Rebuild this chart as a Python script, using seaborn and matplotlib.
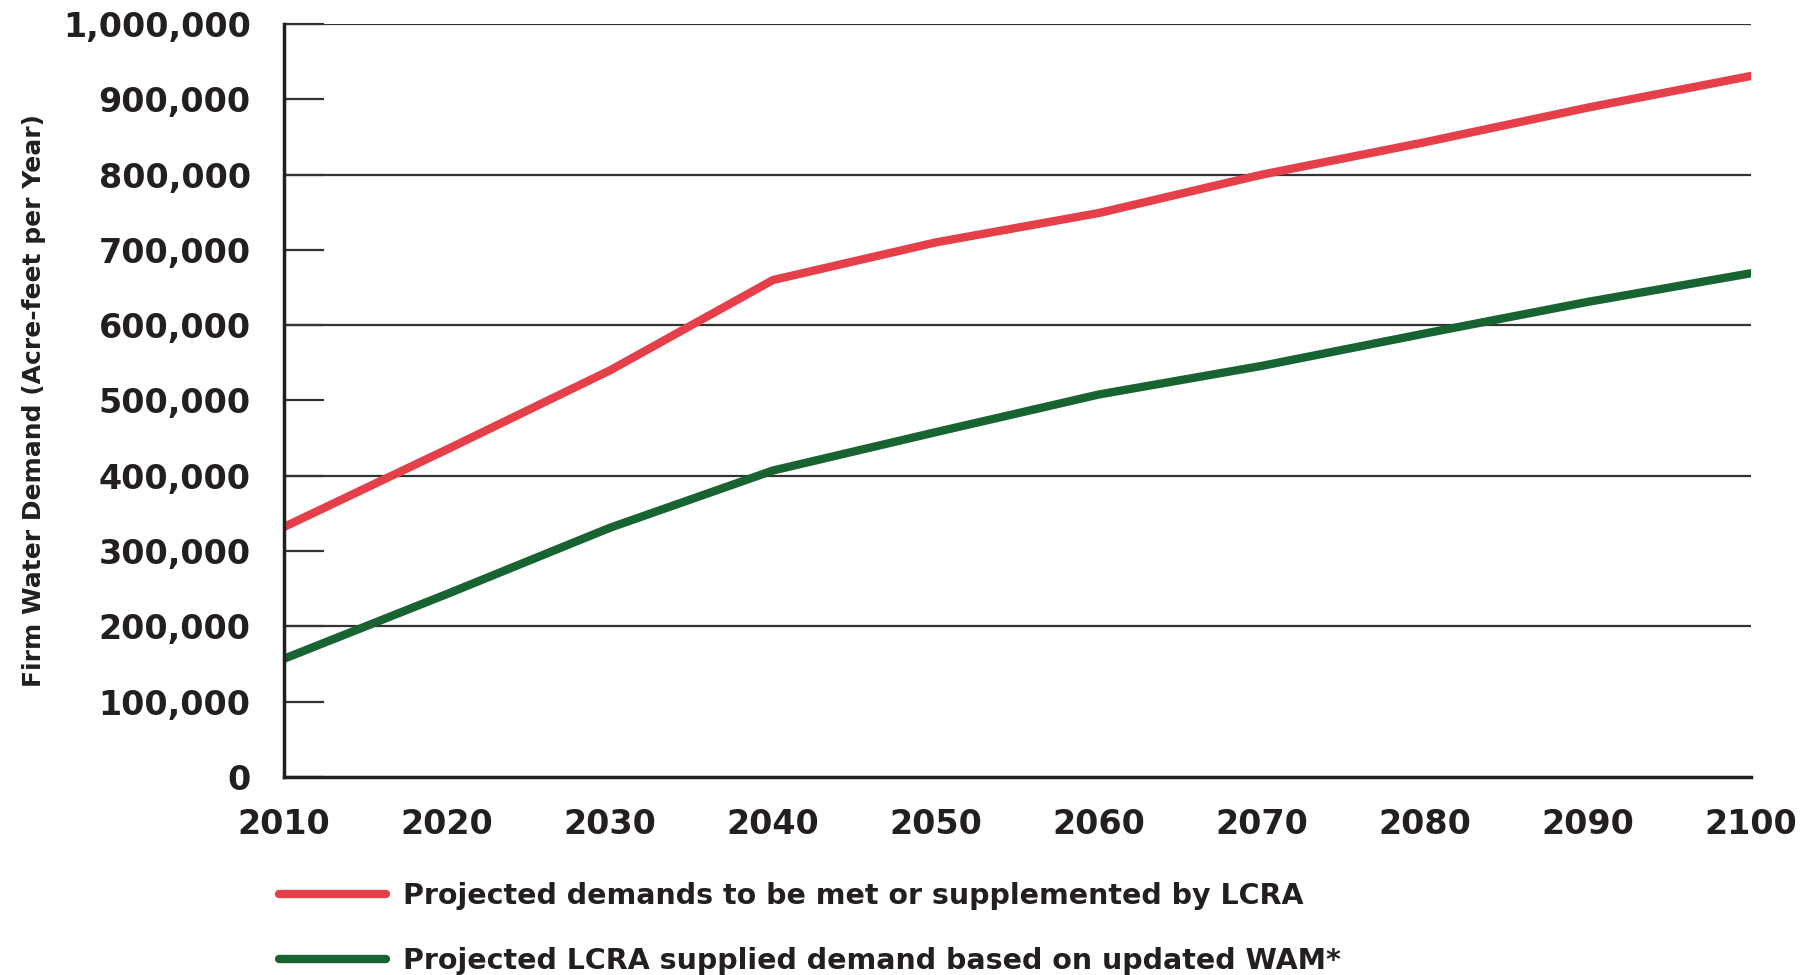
import numpy as np
import pandas as pd
import seaborn as sns
import matplotlib.pyplot as plt
from matplotlib.ticker import FuncFormatter, MultipleLocator

years = [2010, 2020, 2030, 2040, 2050, 2060, 2070, 2080, 2090, 2100]
lcra_demand = [332000, 435000, 540000, 660000, 710000, 749000, 800000,
               843000, 889000, 931000]
wam_supplied = [157000, 243000, 331000, 407000, 458000, 508000, 546000,
                589000, 631000, 669000]
series_names = ["Projected demands to be met or supplemented by LCRA",
                "Projected LCRA supplied demand based on updated WAM*"]
colors = ["#E5404A", "#176331"]

df = pd.DataFrame({"year": years * 2,
                   "demand": lcra_demand + wam_supplied,
                   "series": [series_names[0]] * len(years)
                   + [series_names[1]] * len(years)})

sns.set_style("white")
plt.rcParams["font.family"] = ["DejaVu Sans"]

fig = plt.figure(figsize=(18.16, 9.75), dpi=100)
ax = fig.add_axes([0.1564, 0.2031, 0.8078, 0.7723])

sns.lineplot(data=df, x="year", y="demand", hue="series",
             palette=colors, linewidth=6, ax=ax,
             solid_capstyle="round", solid_joinstyle="round")

# gridlines only at every other 100,000
for g in [200000, 400000, 600000, 800000, 1000000]:
    ax.axhline(g, color="#333333", linewidth=1.6, zorder=0)

ax.set_xlim(2010, 2100)
ax.set_ylim(0, 1000000)
ax.set_xticks(years)
ax.yaxis.set_major_locator(MultipleLocator(100000))
ax.yaxis.set_major_formatter(FuncFormatter(lambda v, p: f"{int(v):,}"))

ax.tick_params(axis="y", direction="in", length=29, width=1.6,
               color="#333333", pad=24, labelsize=24, left=True)
ax.tick_params(axis="x", length=0, pad=22, labelsize=24)
for lab in ax.get_xticklabels() + ax.get_yticklabels():
    lab.set_fontweight("bold")
    lab.set_color("#231f20")

for side in ["top", "right"]:
    ax.spines[side].set_visible(False)
for side in ["left", "bottom"]:
    ax.spines[side].set_linewidth(2.5)
    ax.spines[side].set_color("#231f20")

ax.set_xlabel("")
ax.set_ylabel("Firm Water Demand (Acre-feet per Year)", fontsize=18,
              fontweight="bold", color="#231f20")
ax.yaxis.set_label_coords(-0.162, 0.5)

sns.move_legend(ax, "upper left", bbox_to_anchor=(0.1536, 0.0954),
                bbox_transform=fig.transFigure, frameon=False, title=None,
                borderpad=0, borderaxespad=0, handlelength=3.75,
                handletextpad=0.6, labelspacing=1.3, fontsize=20.5)
for t in ax.get_legend().get_texts():
    t.set_fontweight("bold")
    t.set_color("#231f20")

plt.savefig("out.png", dpi=100)
plt.close("all")
